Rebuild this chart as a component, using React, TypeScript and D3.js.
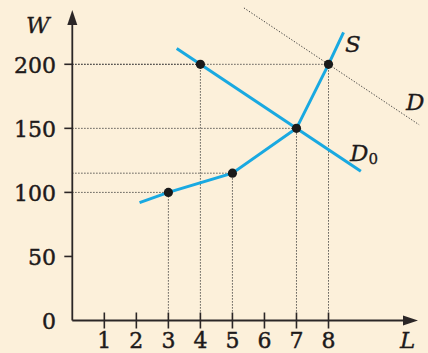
import React from "react";
import * as d3 from "d3";

const W = 428, H = 353;
const xTicks = [1, 2, 3, 4, 5, 6, 7, 8];
const yTicks = [0, 50, 100, 150, 200];
// supply curve S (L, W)
const supplyL = [2.1, 3, 5, 7, 8, 8.47];
const supplyW = [92, 100, 115, 150, 200, 225];
// demand D0
const d0L = [3.26, 9.01];
const d0W = [212.3, 116.5];
// shifted demand D (dotted)
const dL = [5.36, 10.83];
const dW = [244, 152.8];
// marked points
const ptL = [3, 5, 7, 4, 8];
const ptW = [100, 115, 150, 200, 200];

const BLUE = "#19a9e1";
const AX = "#2b2626";
const TXT = "#1e1a1a";

export default function App() {
  const x = d3.scaleLinear().domain([0, 8]).range([72.3, 328.5]);
  const y = d3.scaleLinear().domain([0, 200]).range([320.5, 64.3]);
  const line = d3.line<[number, number]>().x(d => x(d[0])).y(d => y(d[1]));
  const sPts = supplyL.map((l, i) => [l, supplyW[i]] as [number, number]);
  const d0Pts = d0L.map((l, i) => [l, d0W[i]] as [number, number]);
  const dPts = dL.map((l, i) => [l, dW[i]] as [number, number]);
  const pts = ptL.map((l, i) => [l, ptW[i]] as [number, number]);
  const font = "'DejaVu Serif', serif";
  const x0 = x(0), y0 = y(0);
  return (
    <svg width={W} height={H} style={{ position: "fixed", left: 0, top: 0 }}>
      <rect width={W} height={H} fill="#fcf0da" />
      {/* dotted guides */}
      <g stroke="#333" strokeWidth={1} strokeDasharray="1.2,1.8" fill="none">
        {pts.map((p, i) => (
          <g key={i}>
            <line x1={x0} x2={x(p[0])} y1={y(p[1])} y2={y(p[1])} />
            <line x1={x(p[0])} x2={x(p[0])} y1={y0} y2={y(p[1])} />
          </g>
        ))}
        <path d={line(dPts) || ""} />
      </g>
      <path d={line(sPts) || ""} stroke={BLUE} strokeWidth={3} fill="none" />
      <path d={line(d0Pts) || ""} stroke={BLUE} strokeWidth={3} fill="none" />
      {pts.map((p, i) => (
        <circle key={i} cx={x(p[0])} cy={y(p[1])} r={4.6} fill="#1a1a1a" />
      ))}
      {/* axes */}
      <line x1={x0} x2={x0} y1={y0} y2={22} stroke={AX} strokeWidth={1.8} />
      <path d={`M${x0},10 L${x0 - 5},25 L${x0 + 5},25 Z`} fill={AX} />
      <line x1={x0} x2={406} y1={y0} y2={y0} stroke={AX} strokeWidth={1.8} />
      <path d={`M418,${y0} L403,${y0 - 5} L403,${y0 + 5} Z`} fill={AX} />
      {yTicks.slice(1).map(t => (
        <line key={t} x1={x0 - 8} x2={x0} y1={y(t)} y2={y(t)} stroke={AX} strokeWidth={1.6} />
      ))}
      {xTicks.map(t => (
        <line key={t} x1={x(t)} x2={x(t)} y1={y0 - 8} y2={y0 + 8} stroke={AX} strokeWidth={1.6} />
      ))}
      <g fontFamily={font} fontSize={22} fill={TXT} stroke={TXT} strokeWidth={0.45}>
        {yTicks.map(t => (
          <text key={t} x={56} y={y(t) + 8.5} textAnchor="end">{t}</text>
        ))}
        {xTicks.map(t => (
          <text key={t} x={x(t)} y={348} textAnchor="middle">{t}</text>
        ))}
      </g>
      <g fontFamily={font} fontStyle="italic" fontSize={23} fill={TXT} stroke={TXT} strokeWidth={0.3}>
        <text x={26} y={33}>W</text>
        <text x={400} y={348}>L</text>
        <text x={345} y={52}>S</text>
        <text x={406} y={110}>D</text>
        <text x={350} y={161}>D<tspan fontStyle="normal" fontSize={15} dy={3}>0</tspan></text>
      </g>
    </svg>
  );
}
